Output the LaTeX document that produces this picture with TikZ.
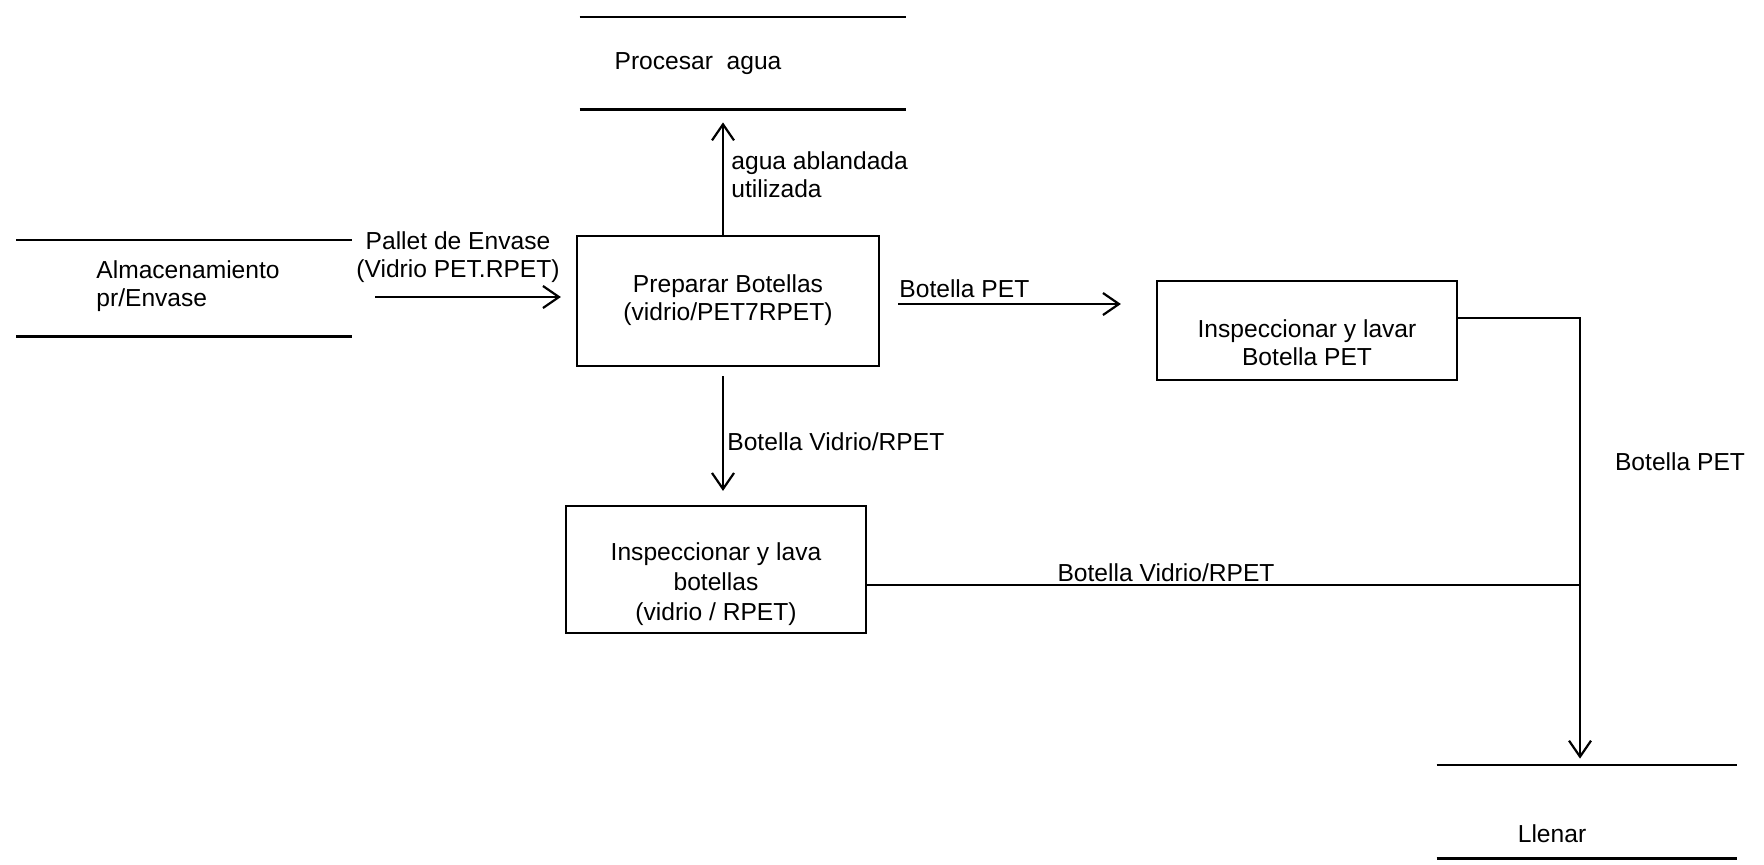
\documentclass[tikz,border=0pt]{standalone}
\usepackage{fontspec}
\setmainfont{Liberation Sans}
\usetikzlibrary{arrows.meta,calc}
\begin{document}
\begin{tikzpicture}[x=0.5pt,y=-0.5pt,
  every node/.style={font=\fontsize{12.3}{14}\selectfont},
  procbox/.style={draw, line width=1.1pt, inner sep=0pt},
  store/.style={inner sep=0pt, draw=none},
  storeline/.style={line width=1.1pt},
  txt/.style={inner sep=0pt, align=center},
  lbl/.style={inner sep=0pt, align=left},
  flow/.style={line width=1.1pt, -{Straight Barb[length=8pt,width=11pt,line width=1.1pt]}},
  link/.style={line width=1.1pt}]
\useasboundingbox (0,0) rectangle (1764,864);

% data stores (two parallel lines)
\node[store, minimum width=167.5pt, minimum height=48pt] (alm) at (184,288) {};
\node[store, minimum width=163pt, minimum height=46pt] (agua) at (743,63) {};
\node[store, minimum width=150pt, minimum height=46.5pt] (llenar) at (1587,811.5) {};
\foreach \s in {alm,agua,llenar}
  \draw[storeline] (\s.north west) -- (\s.north east) (\s.south west) -- (\s.south east);
\node[lbl, anchor=west] (almT) at (96,286) {Almacenamiento\\pr/Envase};
\node[txt] (aguaT) at (698,64) {Procesar~ agua};
\node[txt] (llenarT) at (1552,834) {Llenar};

% processes
\node[procbox, minimum width=151pt, minimum height=65pt] (prep) at (728,301) {};
\node[procbox, minimum width=150pt, minimum height=49.5pt] (pet) at (1307,330.5) {};
\node[procbox, minimum width=150pt, minimum height=63.5pt] (lava) at (716,569.5) {};
\node[txt] (prepT) at (728,300) {Preparar Botellas\\(vidrio/PET7RPET)};
\node[txt] (petT) at (1307,343) {Inspeccionar y lavar\\Botella PET};
\node[txt, font=\fontsize{12.3}{15}\selectfont] (lavaT) at (716,584) {Inspeccionar y lava\\botellas\\(vidrio / RPET)};

% flows
\coordinate (palStart) at (375,297);
\coordinate (yPet) at (0,304);
\coordinate (turn) at (1580,318);
\coordinate (join) at (1580,585);

\draw[flow, shorten >=7.5pt] (palStart) -- (palStart -| prep.west);
\draw[flow, shorten >=6.5pt] ([xshift=-2.5pt]prep.north) -- ([xshift=-2.5pt]prep.north |- agua.south);
\draw[flow, shorten <=9pt, shorten >=17.5pt] (prep.east |- yPet) -- (pet.west |- yPet);
\draw[flow, shorten <=4.5pt, shorten >=7pt] ([xshift=-2.5pt]prep.south) -- ([xshift=-2.5pt]prep.south |- lava.north);
\draw[flow, shorten >=3pt] (pet.east |- turn) -- (turn) -- (turn |- llenar.north);
\draw[link] (lava.east |- join) -- (join);

% flow labels
\node[txt] (palL) at (458,257) {Pallet de Envase\\(Vidrio PET.RPET)};
\node[lbl, anchor=west] (aguaL) at (731,175) {agua ablandada\\utilizada};
\node[lbl, anchor=west] (petL) at (899,289) {Botella PET};
\node[lbl, anchor=west] (vidL) at (727,442) {Botella Vidrio/RPET};
\node[txt] (vid2L) at (1166,573) {Botella Vidrio/RPET};
\node[txt] (pet2L) at (1680,462) {Botella PET};
\end{tikzpicture}
\end{document}
